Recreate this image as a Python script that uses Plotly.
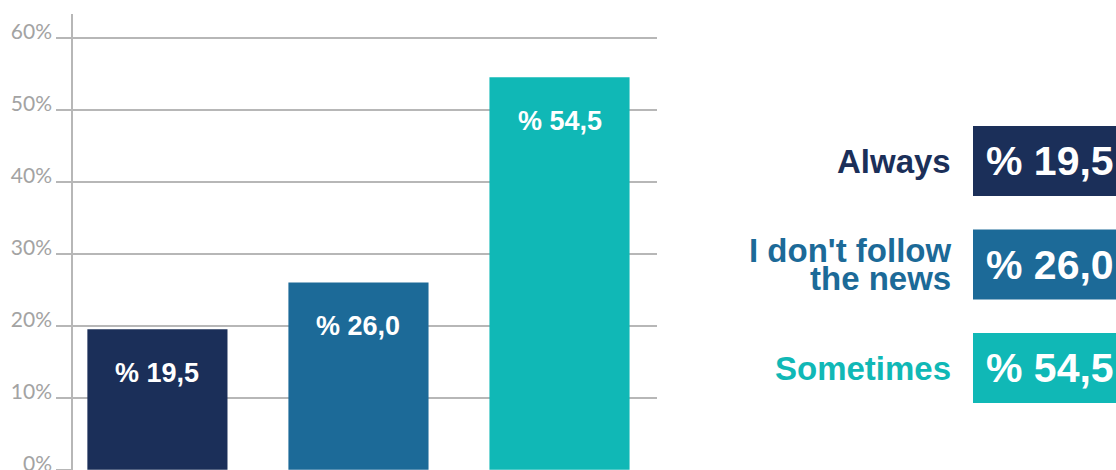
import plotly.graph_objects as go

# Survey answers and their shares (percent)
categories = ["Always", "I don't follow the news", "Sometimes"]
values = [19.5, 26.0, 54.5]
legend_lines = [["Always"], ["I don't follow", "the news"], ["Sometimes"]]
colors = ["#1b2f59", "#1c6a98", "#10b8b6"]
tick_values = [0, 10, 20, 30, 40, 50, 60]
tick_labels = [f"{v}%" for v in tick_values]

W, H = 1116, 470
GRID = "#b7b7b7"
BOLD = "Liberation Sans, Arial, sans-serif"


def pct(v):
    return "% " + f"{v:.1f}".replace(".", ",")


fig = go.Figure(
    go.Bar(
        x=categories,
        y=values,
        marker=dict(color=colors, line=dict(width=0)),
        hoverinfo="skip",
    )
)

# value labels inside the top of each bar
for cat, v in zip(categories, values):
    fig.add_annotation(
        x=cat, y=v, xref="x", yref="y",
        text=pct(v), showarrow=False, yshift=-44,
        font=dict(family=BOLD, size=27, color="white", weight="bold"),
    )

# right-hand key: coloured boxes with the values and coloured names
box_left, box_h = 973, 70
centers = [161, 264.5, 368]
for lines, v, c, cy in zip(legend_lines, values, colors, centers):
    fig.add_shape(
        type="rect", xref="paper", yref="paper",
        x0=box_left / W, x1=1.0,
        y0=1 - (cy + box_h / 2) / H, y1=1 - (cy - box_h / 2) / H,
        fillcolor=c, line=dict(width=0), layer="above",
    )
    fig.add_annotation(
        x=984 / W, y=1 - cy / H, xref="paper", yref="paper",
        xanchor="left", yanchor="middle", text=pct(v), showarrow=False,
        font=dict(family=BOLD, size=41, color="white", weight="bold"),
    )
    n = len(lines)
    for i, line in enumerate(lines):
        ly = cy + (i - (n - 1) / 2) * 28
        fig.add_annotation(
            x=953 / W, y=1 - ly / H, xref="paper", yref="paper",
            xanchor="right", yanchor="middle", text=line, showarrow=False,
            font=dict(family=BOLD, size=33, color=c, weight="bold"),
        )

fig.update_layout(
    width=W, height=H,
    margin=dict(l=0, r=0, t=0, b=0),
    paper_bgcolor="white", plot_bgcolor="white",
    showlegend=False,
    bargap=0.303,
    xaxis=dict(
        domain=[73 / W, 657 / W],
        range=[-0.42, 2.485],
        showticklabels=False, showgrid=False, zeroline=False, showline=False,
        ticks="",
    ),
    yaxis=dict(
        domain=[0, 1 - 14 / H],
        range=[-0.05, (H - 14) / 7.2 - 0.05],
        tickvals=tick_values, ticktext=tick_labels,
        ticklabelposition="outside",
        ticklabelshift=-6,
        ticklabeloverflow="allow",
        ticks="outside", ticklen=15, tickwidth=1.5, tickcolor=GRID,
        showgrid=True, gridcolor=GRID, gridwidth=1.5,
        showline=True, linecolor=GRID, linewidth=1.5,
        zeroline=False,
        tickfont=dict(family="Lato, sans-serif", size=21, color="#a3a3a3"),
        automargin=False,
    ),
)

fig.write_html("out.html")
